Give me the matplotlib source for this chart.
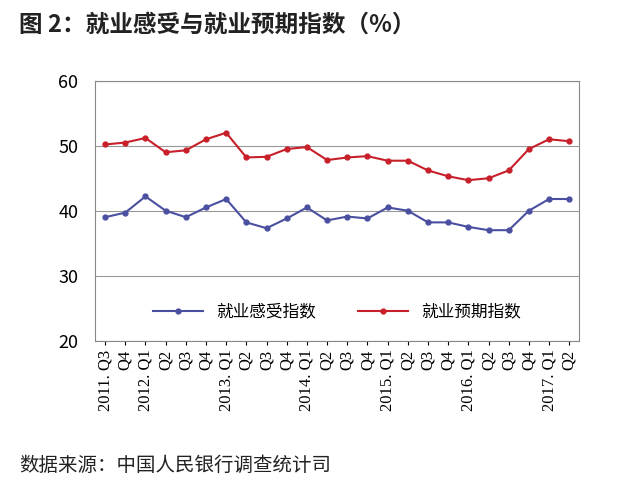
import matplotlib.pyplot as plt

plt.rcParams['font.family'] = ['Noto Sans CJK SC', 'DejaVu Sans']

labels = ['2011. Q3', 'Q4', '2012. Q1', 'Q2', 'Q3', 'Q4', '2013. Q1', 'Q2', 'Q3', 'Q4',
          '2014. Q1', 'Q2', 'Q3', 'Q4', '2015. Q1', 'Q2', 'Q3', 'Q4',
          '2016. Q1', 'Q2', 'Q3', 'Q4', '2017. Q1', 'Q2']
feel = [39, 39.7, 42.2, 40, 39, 40.5, 41.8, 38.2, 37.3, 38.8, 40.5, 38.5,
        39.1, 38.8, 40.5, 40, 38.2, 38.2, 37.5, 37, 37, 40, 41.8, 41.8]
expect = [50.2, 50.5, 51.2, 49, 49.3, 51, 52, 48.2, 48.3, 49.5, 49.8, 47.8,
          48.2, 48.4, 47.7, 47.7, 46.2, 45.3, 44.7, 45, 46.2, 49.5, 51, 50.7]

fig = plt.figure(figsize=(6.25, 4.9), dpi=100)
ax = fig.add_axes([0.152, 0.305, 0.775, 0.53])
x = range(len(labels))
ax.plot(x, feel, color='#4a4fa0', marker='o', ms=3.5, lw=1.5, label='就业感受指数')
ax.plot(x, expect, color='#c8202a', marker='o', ms=3.5, lw=1.5, label='就业预期指数')
ax.set_ylim(20, 60)
ax.set_yticks([20, 30, 40, 50, 60])
ax.set_xlim(-0.5, len(labels) - 0.5)
ax.set_xticks(list(x))
ax.set_xticklabels(labels, rotation=90, family=['Times New Roman', 'Liberation Serif', 'DejaVu Serif'], fontsize=12)
ax.tick_params(axis='y', labelsize=13, length=0, pad=12)
ax.tick_params(axis='x', length=3)
ax.grid(axis='y', color='#999999', lw=0.8)
for s in ax.spines.values():
    s.set_color('#888888')
ax.legend(loc='lower center', bbox_to_anchor=(0.5, 0.02), ncol=2, frameon=False, fontsize=12,
          handlelength=3, columnspacing=2.5)

fig.text(0.03, 0.935, '图 2：就业感受与就业预期指数（%）', fontsize=17, fontweight='bold', color='#222222')
fig.text(0.03, 0.04, '数据来源：中国人民银行调查统计司', fontsize=14, color='#222222')
fig.savefig('out.png', dpi=100)
